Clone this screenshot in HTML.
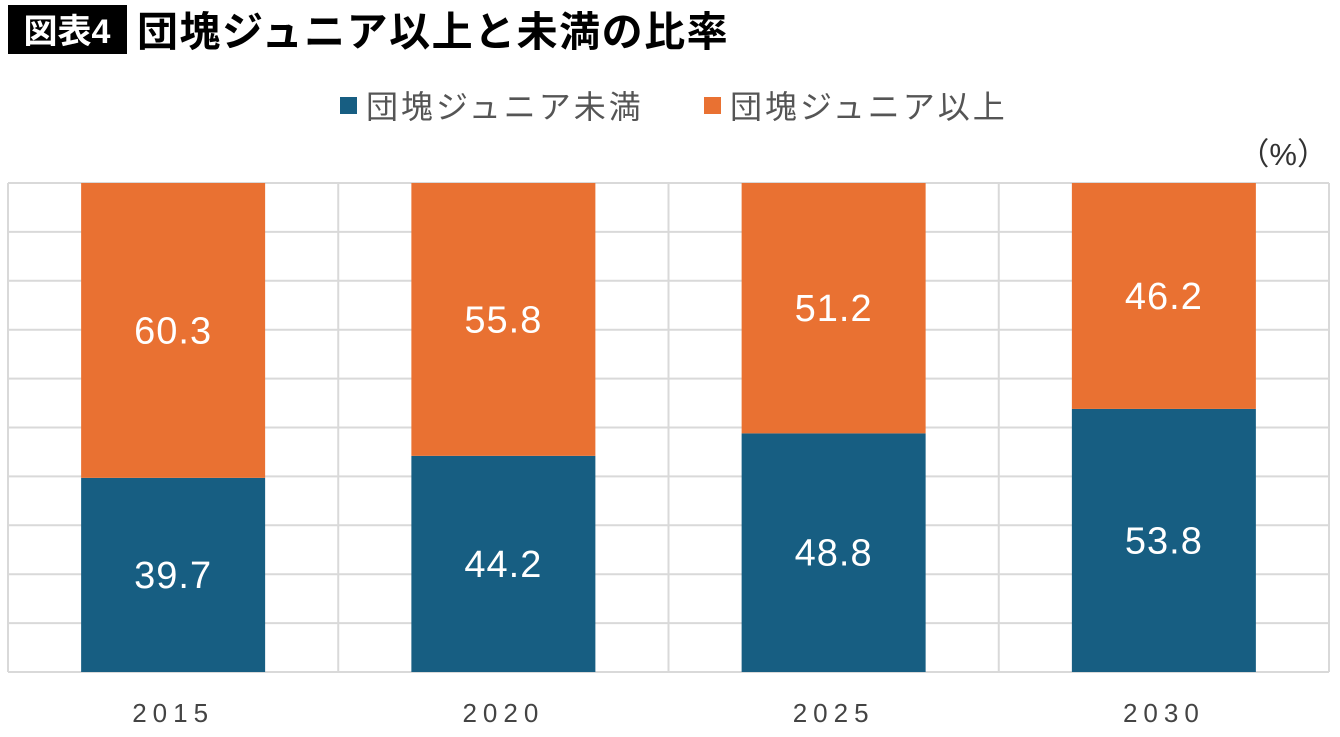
<!DOCTYPE html>
<html><head><meta charset="utf-8"><style>
body{margin:0;width:1340px;height:732px;background:#fff;overflow:hidden;font-family:"Liberation Sans","Noto Sans CJK JP",sans-serif}
</style></head><body>
<svg id="c" width="1340" height="732" xmlns="http://www.w3.org/2000/svg">
<rect x="8" y="5" width="119" height="49" fill="#000"/>
<text x="67" y="43" text-anchor="middle" font-size="34" font-weight="bold" fill="#fff" font-family="Liberation Sans,Noto Sans CJK JP,sans-serif">図表4</text>
<text x="137" y="46" font-size="41" letter-spacing="1.5" font-weight="bold" fill="#000" font-family="Liberation Sans,Noto Sans CJK JP,sans-serif">団塊ジュニア以上と未満の比率</text>
<g>
<rect x="340" y="97" width="17" height="17" fill="#175e82"/>
<text x="366" y="118" font-size="32" letter-spacing="3" fill="#555" font-family="Liberation Sans,Noto Sans CJK JP,sans-serif">団塊ジュニア未満</text>
<rect x="704" y="97" width="17" height="17" fill="#e97132"/>
<text x="730" y="118" font-size="32" letter-spacing="3" fill="#555" font-family="Liberation Sans,Noto Sans CJK JP,sans-serif">団塊ジュニア以上</text>
</g>
<text x="1328" y="165" text-anchor="end" font-size="31" fill="#333" font-family="Liberation Sans,Noto Sans CJK JP,sans-serif">（%）</text>
<g id="grid"></g><g id="bars"></g>
</svg>
<script>
const categories=["2015","2020","2025","2030"];
const under=[39.7,44.2,48.8,53.8];
const over=[60.3,55.8,51.2,46.2];
const yTicks=[0,10,20,30,40,50,60,70,80,90,100];
const NS="http://www.w3.org/2000/svg";
const L=8,R=1329,T=183,B=672;
const y=v=>B-(v/100)*(B-T);
const cw=(R-L)/categories.length;
const g=document.getElementById('grid'),b=document.getElementById('bars');
function mk(tag,attrs,parent){const e=document.createElementNS(NS,tag);for(const k in attrs)e.setAttribute(k,attrs[k]);parent.appendChild(e);return e;}
yTicks.forEach(t=>{const l=mk('line',{x1:L,x2:R,y1:y(t),y2:y(t),stroke:'#d9d9d9','stroke-width':2},g);

});
for(let i=0;i<=categories.length;i++){const x=L+i*cw;const l=mk('line',{x1:x,x2:x,y1:T,y2:B,stroke:'#d9d9d9','stroke-width':2},g);

}
const bw=184;
categories.forEach((c,i)=>{const cx=L+cw*(i+0.5),x=cx-bw/2;
const u=mk('rect',{x:x,y:y(under[i]),width:bw,height:B-y(under[i]),fill:'#175e82'},b);


const o=mk('rect',{x:x,y:y(under[i]+over[i]),width:bw,height:y(under[i])-y(under[i]+over[i]),fill:'#e97132'},b);


const tu=mk('text',{x:cx,y:(y(under[i])+B)/2+13,'text-anchor':'middle','font-size':38,'letter-spacing':'1',fill:'#fff','font-family':'Liberation Sans,sans-serif'},b);tu.textContent=under[i].toFixed(1);


const to=mk('text',{x:cx,y:(y(under[i])+y(under[i]+over[i]))/2+13,'text-anchor':'middle','font-size':38,'letter-spacing':'1',fill:'#fff','font-family':'Liberation Sans,sans-serif'},b);to.textContent=over[i].toFixed(1);


const tx=mk('text',{x:cx,y:722,'text-anchor':'middle','font-size':26,fill:'#444','letter-spacing':'6','font-family':'Liberation Sans,sans-serif'},b);tx.textContent=c;


});
</script>
</body></html>
